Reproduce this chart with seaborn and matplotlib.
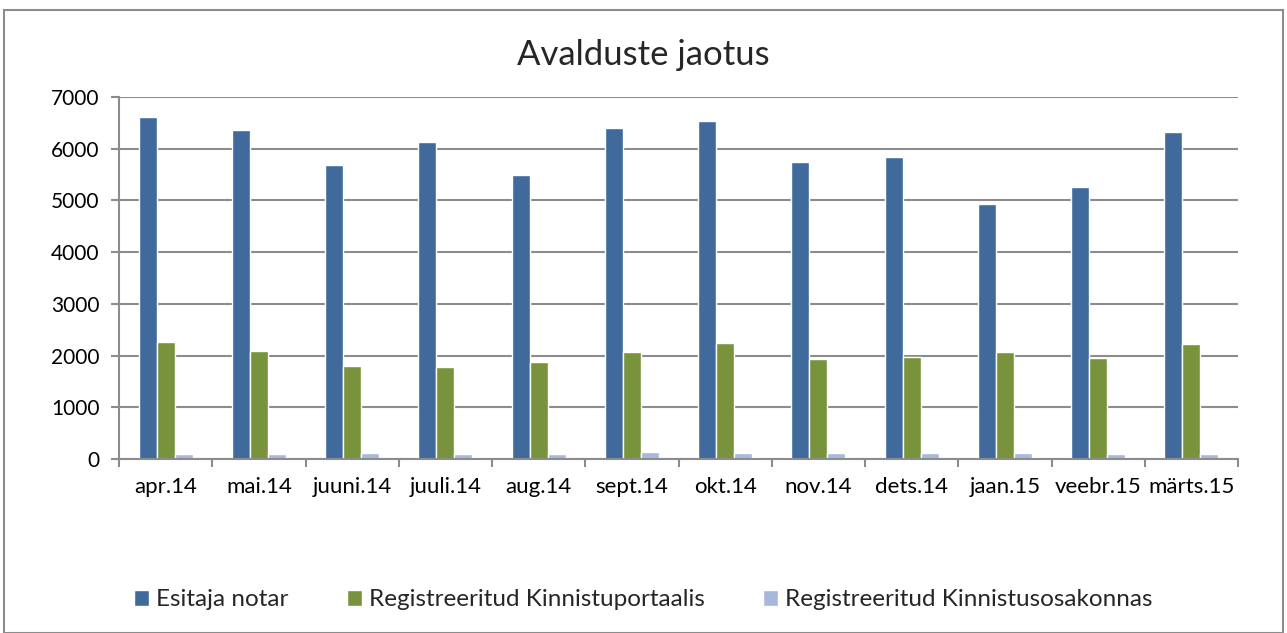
import pandas as pd
import matplotlib
matplotlib.use("Agg")
import matplotlib.pyplot as plt
from matplotlib.patches import Rectangle
from matplotlib.ticker import FixedLocator
import seaborn as sns

months = ["apr.14", "mai.14", "juuni.14", "juuli.14", "aug.14", "sept.14",
          "okt.14", "nov.14", "dets.14", "jaan.15", "veebr.15", "märts.15"]
notar = [6615, 6364, 5687, 6131, 5493, 6402, 6538, 5745, 5841, 4932, 5261, 6325]
portaal = [2263, 2089, 1799, 1774, 1876, 2075, 2250, 1940, 1979, 2070, 1960, 2224]
osakond = [100, 100, 122, 90, 100, 141, 118, 118, 118, 118, 100, 95]
series = ["Esitaja notar", "Registreeritud Kinnistuportaalis",
          "Registreeritud Kinnistusosakonnas"]
colors = ["#406A9C", "#78933C", "#A7B9DA"]

df = pd.DataFrame({"month": months * 3,
                   "value": notar + portaal + osakond,
                   "series": [s for s in series for _ in months]})

sns.set_theme(style="white")
plt.rcParams["font.family"] = ["Lato", "DejaVu Sans"]

W, H = 1287, 633
fig = plt.figure(figsize=(W / 100, H / 100), dpi=100)
ax = fig.add_axes([119 / W, (H - 459) / H, (1238 - 119) / W, (459 - 97) / H])

sns.barplot(data=df, x="month", y="value", hue="series", order=months,
            hue_order=series, palette=colors, width=0.58, gap=0,
            saturation=1, ax=ax, legend=True)

ax.set_xlim(-0.5, 11.5)
ax.set_ylim(0, 7000)
ax.set_yticks(range(0, 7001, 1000))
ax.yaxis.grid(True, color="#8C8C8C", linewidth=1.5)
ax.set_axisbelow(True)
ax.set_xlabel("")
ax.set_ylabel("")
for s in ["top", "right"]:
    ax.spines[s].set_visible(False)
for s in ["left", "bottom"]:
    ax.spines[s].set_color("#8C8C8C")
    ax.spines[s].set_linewidth(1.5)

ax.tick_params(axis="x", which="major", length=0, pad=13, labelsize=16, colors="black")
ax.xaxis.set_minor_locator(FixedLocator([i - 0.5 for i in range(13)]))
ax.tick_params(axis="x", which="minor", bottom=True, length=6, width=1.5, color="#8C8C8C")
ax.tick_params(axis="y", left=True, length=6, width=1.5, color="#8C8C8C",
               labelsize=15, pad=8, labelcolor="black")

fig.text(0.5, (H - 55) / H, "Avalduste jaotus", ha="center", va="center", fontsize=25)

handles, labels = ax.get_legend_handles_labels()
ax.legend_.remove()
fig.legend(handles, labels, loc="center", bbox_to_anchor=(0.5, (H - 600) / H),
           ncol=3, frameon=False, fontsize=17.5, handlelength=0.6, handleheight=0.6,
           handletextpad=0.3, columnspacing=2.4)

fig.patches.append(Rectangle((4 / W, 0), (W - 8) / W, (H - 10) / H,
                             transform=fig.transFigure, fill=False,
                             edgecolor="#8C8C8C", linewidth=1.5))

fig.savefig("out.png", dpi=100)
plt.close()
